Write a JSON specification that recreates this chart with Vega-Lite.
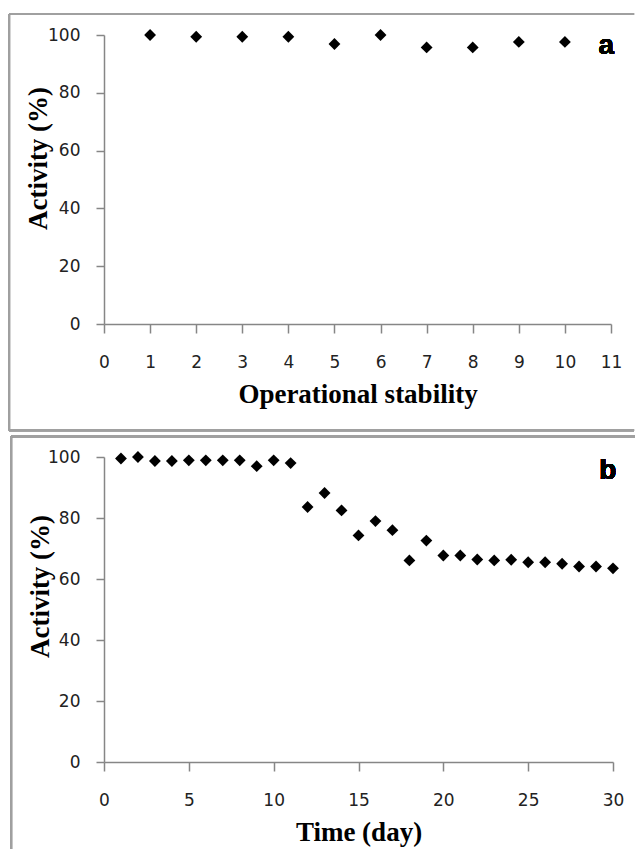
{
  "$schema": "https://vega.github.io/schema/vega-lite/v6.json",
  "padding": {"left": 8, "top": 12, "right": 0, "bottom": 0},
  "background": "white",
  "spacing": 3,
  "config": {
    "view": {"stroke": null},
    "axis": {
      "grid": false,
      "domainColor": "#868686",
      "domainWidth": 1.5,
      "tickColor": "#868686",
      "tickWidth": 1.5,
      "labelFont": "DejaVu Sans",
      "labelFontSize": 17,
      "labelColor": "#222222",
      "titleFont": "Liberation Serif",
      "titleFontSize": 27,
      "titleFontWeight": "bold",
      "titleColor": "#000000"
    },
    "axisX": {"tickSize": 9, "labelPadding": 21, "titlePadding": 11, "labelFlush": false},
    "axisY": {"tickSize": 8, "labelPadding": 16}
  },
  "datasets": {
    "a": [
      {"cycle": 1, "activity": 100},
      {"cycle": 2, "activity": 99.4},
      {"cycle": 3, "activity": 99.4},
      {"cycle": 4, "activity": 99.4},
      {"cycle": 5, "activity": 96.9},
      {"cycle": 6, "activity": 100},
      {"cycle": 7, "activity": 95.7},
      {"cycle": 8, "activity": 95.7},
      {"cycle": 9, "activity": 97.6},
      {"cycle": 10, "activity": 97.6}
    ],
    "b": [
      {"day": 1, "activity": 99.5},
      {"day": 2, "activity": 100},
      {"day": 3, "activity": 98.7},
      {"day": 4, "activity": 98.7},
      {"day": 5, "activity": 98.9},
      {"day": 6, "activity": 98.9},
      {"day": 7, "activity": 98.9},
      {"day": 8, "activity": 98.9},
      {"day": 9, "activity": 97.0},
      {"day": 10, "activity": 98.9},
      {"day": 11, "activity": 98.0},
      {"day": 12, "activity": 83.6},
      {"day": 13, "activity": 88.2},
      {"day": 14, "activity": 82.5},
      {"day": 15, "activity": 74.3},
      {"day": 16, "activity": 79.0},
      {"day": 17, "activity": 76.0},
      {"day": 18, "activity": 66.1},
      {"day": 19, "activity": 72.6},
      {"day": 20, "activity": 67.7},
      {"day": 21, "activity": 67.7},
      {"day": 22, "activity": 66.4},
      {"day": 23, "activity": 66.1},
      {"day": 24, "activity": 66.3},
      {"day": 25, "activity": 65.5},
      {"day": 26, "activity": 65.5},
      {"day": 27, "activity": 65.0},
      {"day": 28, "activity": 64.1},
      {"day": 29, "activity": 64.1},
      {"day": 30, "activity": 63.5}
    ]
  },
  "vconcat": [
    {
      "width": 507,
      "height": 289,
      "data": {"name": "a"},
      "encoding": {
        "x": {"type": "quantitative", "scale": {"domain": [0, 11], "nice": false}, "axis": {"title": "Operational stability", "values": [0,1,2,3,4,5,6,7,8,9,10,11]}},
        "y": {"type": "quantitative", "scale": {"domain": [0, 100], "nice": false}, "axis": {"title": "Activity (%)", "values": [0,20,40,60,80,100], "titleX": -52, "titleY": 123}}
      },
      "layer": [
        {"mark": {"type": "rule", "color": "#a0a0a0", "strokeWidth": 2}, "encoding": {"x": {"datum": -2.06}, "x2": {"datum": 11.5}, "y": {"datum": 107.3}}},
        {"mark": {"type": "rule", "color": "#a0a0a0", "strokeWidth": 2}, "encoding": {"x": {"datum": -2.06}, "y": {"datum": 107.3}, "y2": {"datum": -36.8}}},
        {"mark": {"type": "rule", "color": "#a0a0a0", "strokeWidth": 2}, "encoding": {"x": {"datum": -2.06}, "x2": {"datum": 11.5}, "y": {"datum": -36.8}}},
        {"mark": {"type": "point", "shape": "diamond", "filled": true, "fill": "#000000", "strokeWidth": 0, "opacity": 1, "size": 140},
         "encoding": {"x": {"field": "cycle", "type": "quantitative"}, "y": {"field": "activity", "type": "quantitative"}}},
        {"mark": {"type": "text", "text": "a", "font": "Liberation Sans", "fontWeight": "bold", "fontSize": 28, "align": "center", "baseline": "alphabetic", "fill": "#000000", "strokeWidth": 0},
         "encoding": {"x": {"datum": 10.9}, "y": {"datum": 93.3}}}
      ]
    },
    {
      "width": 509,
      "height": 305,
      "data": {"name": "b"},
      "encoding": {
        "x": {"type": "quantitative", "scale": {"domain": [0, 30], "nice": false}, "axis": {"title": "Time (day)", "values": [0,5,10,15,20,25,30]}},
        "y": {"type": "quantitative", "scale": {"domain": [0, 100], "nice": false}, "axis": {"title": "Activity (%)", "values": [0,20,40,60,80,100], "titleX": -50, "titleY": 129}}
      },
      "layer": [
        {"mark": {"type": "rule", "color": "#a0a0a0", "strokeWidth": 2}, "encoding": {"x": {"datum": -5.48}, "x2": {"datum": 31.35}, "y": {"datum": 106.7}}},
        {"mark": {"type": "rule", "color": "#a0a0a0", "strokeWidth": 2}, "encoding": {"x": {"datum": -5.48}, "y": {"datum": 106.7}, "y2": {"datum": -30}}},
        {"mark": {"type": "point", "shape": "diamond", "filled": true, "fill": "#000000", "strokeWidth": 0, "opacity": 1, "size": 140},
         "encoding": {"x": {"field": "day", "type": "quantitative"}, "y": {"field": "activity", "type": "quantitative"}}},
        {"mark": {"type": "text", "text": "b", "font": "Liberation Sans", "fontWeight": "bold", "fontSize": 28, "align": "center", "baseline": "alphabetic", "fill": "#000000", "strokeWidth": 0},
         "encoding": {"x": {"datum": 29.7}, "y": {"datum": 92.9}}}
      ]
    }
  ]
}
